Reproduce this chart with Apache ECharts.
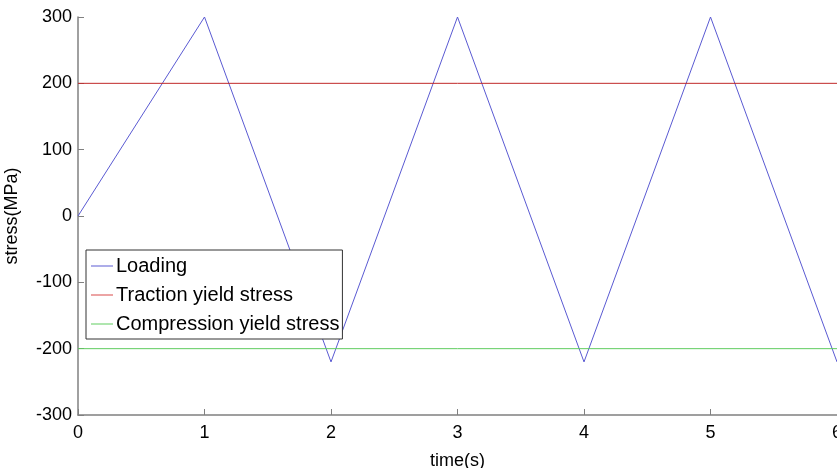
<!DOCTYPE html>
<html><head><meta charset="utf-8">
<script src="https://cdn.jsdelivr.net/npm/echarts@6/dist/echarts.min.js"></script>
<style>html,body{margin:0;padding:0;background:#fff}#c{width:837px;height:468px}</style>
</head><body><div id="c"></div>
<script>
const time = [0, 1, 2, 3, 4, 5, 6];
const loading = [0, 300, -220, 300, -220, 300, -220];
const limitTime = [0, 6];
const traction = [200, 200];
const compression = [-200, -200];
const xTicks = [0, 1, 2, 3, 4, 5, 6];
const yTicks = [-300, -200, -100, 0, 100, 200, 300];

const F = '"Liberation Sans", Arial, sans-serif';
const chart = echarts.init(document.getElementById('c'));
const pair = (xs, ys) => xs.map((x, i) => [x, ys[i]]);
chart.setOption({
  animation: false,
  grid: {left: 78, right: 0, top: 17, bottom: 53, containLabel: false, outerBoundsMode: 'none'},
  xAxis: {
    type: 'value', min: xTicks[0], max: xTicks[xTicks.length - 1], interval: 1,
    name: 'time(s)', nameLocation: 'middle', nameGap: 37,
    nameTextStyle: {fontFamily: F, fontSize: 18, color: '#000'},
    axisLine: {onZero: false, lineStyle: {color: '#808080', width: 1.5}},
    axisTick: {inside: true, length: 6, lineStyle: {color: '#808080'}},
    axisLabel: {fontFamily: F, fontSize: 18, color: '#000', margin: 9},
    splitLine: {show: false}
  },
  yAxis: {
    type: 'value', min: yTicks[0], max: yTicks[yTicks.length - 1], interval: 100,
    name: 'stress(MPa)', nameLocation: 'middle', nameGap: 57,
    nameTextStyle: {fontFamily: F, fontSize: 18, color: '#000'},
    axisLine: {show: true, onZero: false, lineStyle: {color: '#808080', width: 1.5}},
    axisTick: {show: true, inside: true, length: 6, lineStyle: {color: '#808080'}},
    axisLabel: {fontFamily: F, fontSize: 18, color: '#000', margin: 6},
    splitLine: {show: false}
  },
  legend: {
    orient: 'vertical', left: 86, top: 250,
    backgroundColor: '#fff', borderColor: '#333', borderWidth: 1,
    padding: [6, 3, 5, 5], itemGap: 9,
    icon: 'rect', itemWidth: 22, itemHeight: 1,
    textStyle: {fontFamily: F, fontSize: 20, color: '#000', padding: [0, 0, 0, -2]},
    data: ['Loading', 'Traction yield stress', 'Compression yield stress']
  },
  series: [
    {name: 'Loading', type: 'line', data: pair(time, loading), symbol: 'none',
     lineStyle: {color: '#5a5ad2', width: 1}, itemStyle: {color: '#5a5ad2'}},
    {name: 'Traction yield stress', type: 'line', data: pair(limitTime, traction), symbol: 'none',
     lineStyle: {color: '#c02828', width: 1}, itemStyle: {color: '#d84848'}},
    {name: 'Compression yield stress', type: 'line', data: pair(limitTime, compression), symbol: 'none',
     lineStyle: {color: '#5fcc5f', width: 1}, itemStyle: {color: '#5fcc5f'}}
  ]
});
</script></body></html>
